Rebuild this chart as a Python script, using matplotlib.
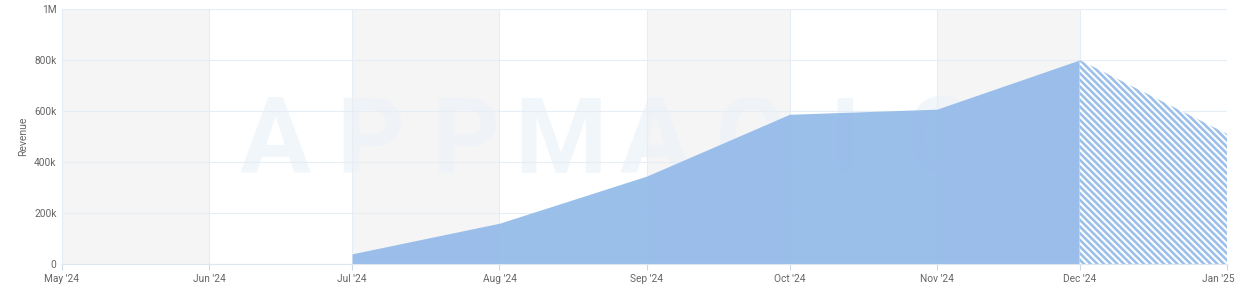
import matplotlib
matplotlib.use("Agg")
import matplotlib.pyplot as plt
import matplotlib.transforms as mtransforms
import pandas as pd

# data
months = pd.to_datetime(["2024-05-01", "2024-06-01", "2024-07-01", "2024-08-01",
                         "2024-09-01", "2024-10-01", "2024-11-01", "2024-12-01",
                         "2025-01-01"])
tick_labels = ["May '24", "Jun '24", "Jul '24", "Aug '24", "Sep '24",
               "Oct '24", "Nov '24", "Dec '24", "Jan '25"]
actual_dates = months[2:8]
actual_revenue = [40000, 160000, 345000, 587000, 607000, 800000]
forecast_dates = months[7:9]
forecast_revenue = [800000, 510000]

plt.rcParams['font.family'] = ['Roboto', 'DejaVu Sans']
plt.rcParams['hatch.linewidth'] = 1.9
plt.rcParams['hatch.color'] = '#9dc0ea'

fig = plt.figure(figsize=(12.4, 2.97), dpi=100)
ax = fig.add_axes([0.05, 0.111, 0.9395, 0.859])

# alternating month bands
for i in range(0, len(months) - 1, 2):
    ax.axvspan(months[i], months[i + 1], color='#f5f5f5', zorder=0, lw=0)

ax.grid(True, color='#e6edf5', lw=0.8, zorder=1)

# watermark
letters = "APPMAGIC"
for i, ch in enumerate(letters):
    ax.text(0.183 + i * 0.0815, 0.47, ch, transform=ax.transAxes, ha='center',
            va='center', fontsize=76, fontweight='bold', color='#edf3fa',
            alpha=0.75, zorder=1.5)

ax.fill_between(actual_dates, actual_revenue, 0, color='#97bde9', lw=0,
                zorder=2, alpha=0.97)
ax.fill_between(forecast_dates, forecast_revenue, 0, facecolor='white',
                edgecolor='#9dc0ea', hatch='\\\\\\\\\\', lw=0, zorder=2)

ax.set_xlim(months[0], months[-1])
ax.set_ylim(0, 1000000)
ax.set_xticks(months)
ax.set_xticklabels(tick_labels)
ax.set_yticks([0, 200000, 400000, 600000, 800000, 1000000])
ax.set_yticklabels(['0', '200k', '400k', '600k', '800k', '1M'])
ax.tick_params(axis='both', labelsize=7.3, colors='#666666', length=0, pad=4)
ax.tick_params(axis='x', length=4, color='#cfd9e6', pad=3)
last = ax.get_xticklabels()[-1]
last.set_transform(last.get_transform() +
                   mtransforms.ScaledTranslation(-6 / 72, 0, fig.dpi_scale_trans))
for s in ['top', 'right', 'left']:
    ax.spines[s].set_visible(False)
ax.spines['bottom'].set_color('#dfe6ee')
ax.set_ylabel('Revenue', fontsize=7.5, color='#666666', labelpad=4)

fig.savefig('out.png', dpi=100)
